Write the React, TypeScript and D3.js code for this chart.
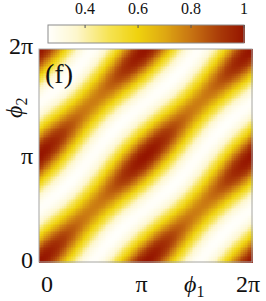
import React, { useMemo } from "react";
import * as d3 from "d3";

// axis ticks (radians) and their labels
const PHI_TICK_VALUES = [0, Math.PI, 2 * Math.PI];
const X_TICK_LABELS = ["0", "π", "2π"];
const Y_TICK_LABELS = ["0", "π", "2π"];

// colorbar
const CBAR_DOMAIN = [0.26, 1];
const CBAR_TICKS = [0.4, 0.6, 0.8, 1];
const CBAR_TICK_LABELS = ["0.4", "0.6", "0.8", "1"];

// harmonic amplitudes:
// mean level, cos 2(φ1−φ2), cos 4(φ1−φ2), (cos 2φ1 + cos 2φ2)
const FIELD_MEAN = [0.56];
const FIELD_DIFF_AMP = [0.31];
const FIELD_DIFF2_AMP = [0.02];
const FIELD_SINGLE_AMP = [0.055];

// colormap stops
const CMAP_VALUES = [0.26, 0.37, 0.49, 0.6, 0.7, 0.8, 0.9, 1.0];
const CMAP_COLORS = ["#fffffc", "#fdf6cc", "#f6e352", "#efd20e", "#dea812", "#c87412", "#ab3e09", "#961500"];

const W = 266;
const H = 301;
const N = 120;

export default function App() {
  const x = d3.scaleLinear().domain([0, 2 * Math.PI]).range([39, 252]);
  const y = d3.scaleLinear().domain([0, 2 * Math.PI]).range([262, 49]);
  const color = d3
    .scaleLinear<string>()
    .domain(CMAP_VALUES)
    .range(CMAP_COLORS)
    .interpolate(d3.interpolateRgb)
    .clamp(true);
  const cb = d3.scaleLinear().domain(CBAR_DOMAIN).range([48, 244]);

  const cells = useMemo(() => {
    const step = (2 * Math.PI) / N;
    const out: { i: number; j: number; v: number }[] = [];
    for (let i = 0; i < N; i++) {
      for (let j = 0; j < N; j++) {
        const p1 = (i + 0.5) * step;
        const p2 = (j + 0.5) * step;
        const v =
          FIELD_MEAN[0] +
          FIELD_DIFF_AMP[0] * Math.cos(2 * (p1 - p2)) +
          FIELD_DIFF2_AMP[0] * Math.cos(4 * (p1 - p2)) +
          FIELD_SINGLE_AMP[0] * (Math.cos(2 * p1) + Math.cos(2 * p2));
        out.push({ i, j, v });
      }
    }
    return out;
  }, []);

  const step = (2 * Math.PI) / N;
  const cbSteps = d3.range(0, 200).map((k) => CBAR_DOMAIN[0] + ((CBAR_DOMAIN[1] - CBAR_DOMAIN[0]) * k) / 200);
  const cbStepW = (cb.range()[1] - cb.range()[0]) / 200;

  const font = "'Liberation Serif', 'Times New Roman', serif";

  return (
    <svg width={W} height={H} style={{ position: "absolute", left: 0, top: 0, background: "#fff" }}>
      {/* heatmap */}
      <g shapeRendering="crispEdges">
        {cells.map((c) => {
          const x0 = x(c.i * step);
          const x1 = x((c.i + 1) * step);
          const y0 = y((c.j + 1) * step);
          const y1 = y(c.j * step);
          return (
            <rect
              key={c.i * N + c.j}
              x={x0}
              y={y0}
              width={x1 - x0 + 0.6}
              height={y1 - y0 + 0.6}
              fill={color(c.v)}
            />
          );
        })}
      </g>
      <rect x={39} y={49} width={213} height={213} fill="none" stroke="#a6a6a6" strokeWidth={1} />

      {/* colorbar */}
      <g shapeRendering="crispEdges">
        {cbSteps.map((v, k) => (
          <rect key={k} x={cb(v)} y={25} width={cbStepW + 0.6} height={18} fill={color(v + (CBAR_DOMAIN[1] - CBAR_DOMAIN[0]) / 400)} />
        ))}
      </g>
      <rect x={48} y={25} width={196} height={18} fill="none" stroke="#8c8c8c" strokeWidth={1} />
      {CBAR_TICKS.map((t) => (
        <line key={"ct" + t} x1={cb(t)} x2={cb(t)} y1={25} y2={28} stroke="#555" strokeWidth={1} />
      ))}
      {CBAR_TICKS.map((t, k) => (
        <text key={"cl" + t} x={cb(t)} y={14} textAnchor="middle" fontFamily={font} fontSize={16} fill="#111">
          {CBAR_TICK_LABELS[k]}
        </text>
      ))}

      {/* x tick labels */}
      {PHI_TICK_VALUES.map((t, k) => (
        <text
          key={"xl" + k}
          x={k === 0 ? x(t) + 8 : k === 2 ? x(t) - 4 : x(t) - 4}
          y={292}
          textAnchor="middle"
          fontFamily={font}
          fontSize={24}
          fill="#111"
        >
          {X_TICK_LABELS[k]}
        </text>
      ))}
      {/* y tick labels */}
      {PHI_TICK_VALUES.map((t, k) => (
        <text
          key={"yl" + k}
          x={33}
          y={k === 0 ? y(t) + 6 : k === 2 ? y(t) + 5 : y(t) + 8}
          textAnchor="end"
          fontFamily={font}
          fontSize={24}
          fill="#111"
        >
          {Y_TICK_LABELS[k]}
        </text>
      ))}

      {/* axis labels */}
      <text x={184} y={292} fontFamily={font} fontSize={24} fontStyle="italic" fill="#111">
        ϕ<tspan fontSize={16} fontStyle="normal" dy={5}>1</tspan>
      </text>
      <text
        transform="translate(22,118) rotate(-90)"
        fontFamily={font}
        fontSize={24}
        fontStyle="italic"
        fill="#111"
      >
        ϕ<tspan fontSize={16} fontStyle="normal" dy={5}>2</tspan>
      </text>

      {/* panel label */}
      <text x={45} y={83} fontFamily={font} fontSize={28} fill="#111">
        (f)
      </text>
    </svg>
  );
}
